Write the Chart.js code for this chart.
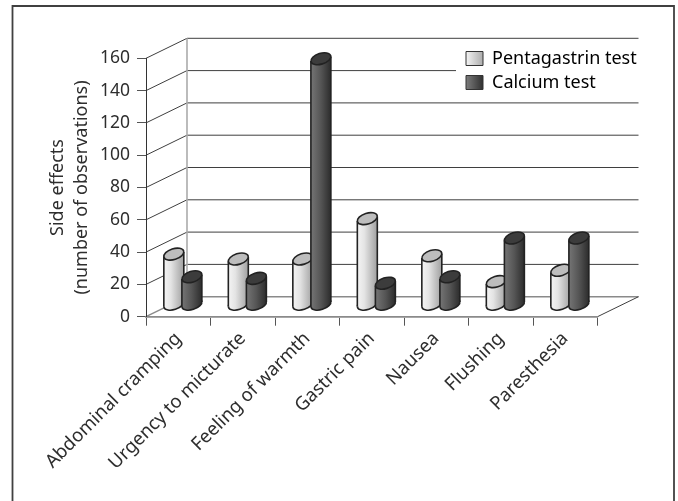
<!DOCTYPE html>
<html><head><meta charset="utf-8">
<style>html,body{margin:0;padding:0;background:#fff}canvas{display:block}</style>
<script src="https://cdn.jsdelivr.net/npm/chart.js@4"></script>
</head><body><canvas id="c" width="678" height="501"></canvas>
<script>
const categories = ['Abdominal cramping','Urgency to micturate','Feeling of warmth','Gastric pain','Nausea','Flushing','Paresthesia'];
const seriesNames = ['Pentagastrin test','Calcium test'];
const pentagastrin = [31,28,28,53,30,14,21];
const calcium = [17,16,152,13,17,41,41];
const yTitle = ['Side effects','(number of observations)'];
const FONT = '"Noto Sans", sans-serif';
const INK = '#2e2e2e';
const depthX = 41, depthY = -20;

function sideGradient(ctx, x0, x1, stops){
  const g = ctx.createLinearGradient(x0,0,x1,0);
  stops.forEach(s=>g.addColorStop(s[0],s[1]));
  return g;
}
const bodyStops = [
  [[0,'#f4f4f4'],[0.35,'#e4e4e4'],[1,'#a0a0a0']],
  [[0,'#757575'],[0.5,'#555555'],[1,'#2c2c2c']]
];
const capColors = ['#bdbdbd','#3c3c3c'];

const scene = {
  id:'scene',
  afterLayout(chart){
    const lg = chart.legend;
    lg.left = 460; lg.right = 460 + lg.width;
    lg.top = 43.5; lg.bottom = 43.5 + lg.height;
  },
  beforeDraw(chart){
    const {ctx, chartArea:a, scales:{y}} = chart;
    ctx.save();
    ctx.fillStyle='#fff'; ctx.fillRect(0,0,chart.width,chart.height);
    ctx.strokeStyle='#404040'; ctx.lineWidth=1.8;
    ctx.beginPath(); ctx.moveTo(12.5,chart.height); ctx.lineTo(12.5,6); ctx.lineTo(674,6); ctx.lineTo(674,chart.height); ctx.stroke();
    y.ticks.forEach(t=>{
      const py = y.getPixelForValue(t.value);
      ctx.strokeStyle = t.value===0 ? '#8a8a8a' : '#3f3f3f';
      ctx.lineWidth = t.value===0 ? 1.4 : 1;
      ctx.beginPath(); ctx.moveTo(a.left,py); ctx.lineTo(a.left+depthX,py+depthY); ctx.lineTo(a.right+depthX,py+depthY); ctx.stroke();
    });
    ctx.strokeStyle='#3f3f3f'; ctx.lineWidth=1;
    ctx.beginPath(); ctx.moveTo(a.right,a.bottom); ctx.lineTo(a.right+depthX,a.bottom+depthY); ctx.stroke();
    ctx.strokeStyle='#ababab'; ctx.lineWidth=1.6;
    ctx.beginPath(); ctx.moveTo(a.left+depthX,a.top+depthY); ctx.lineTo(a.left+depthX,a.bottom+depthY); ctx.stroke();
    ctx.fillStyle='#fff'; ctx.fillRect(456,45,190,48);
    ctx.restore();
  },
  afterDatasetsDraw(chart){
    const {ctx} = chart;
    const metas = chart.data.datasets.map((d,i)=>chart.getDatasetMeta(i));
    const rot = -0.30, dx = 4.6, dy = -12;
    categories.forEach((_,i)=>{
      metas.forEach((m,k)=>{
        const el = m.data[i];
        const cx = el.x+dx, topY = el.y+dy-0.5, botY = el.base+dy;
        const a = el.width/2-0.2, b = 5.4;
        const t = Math.atan(-(b/a)*Math.tan(rot));
        const tx = a*Math.cos(t)*Math.cos(rot)-b*Math.sin(t)*Math.sin(rot);
        const ty = a*Math.cos(t)*Math.sin(rot)+b*Math.sin(t)*Math.cos(rot);
        const fill = sideGradient(ctx,cx-tx,cx+tx,bodyStops[k]);
        ctx.save();
        ctx.lineWidth=1.6; ctx.strokeStyle='#222';
        ctx.fillStyle=fill;
        ctx.beginPath(); ctx.ellipse(cx,botY,a,b,rot,0,Math.PI*2); ctx.fill(); ctx.stroke();
        ctx.beginPath();
        ctx.moveTo(cx-tx,botY-ty); ctx.lineTo(cx-tx,topY-ty); ctx.lineTo(cx+tx,topY+ty); ctx.lineTo(cx+tx,botY+ty); ctx.closePath();
        ctx.fill();
        ctx.beginPath(); ctx.moveTo(cx-tx,botY-ty); ctx.lineTo(cx-tx,topY-ty);
        ctx.moveTo(cx+tx,botY+ty); ctx.lineTo(cx+tx,topY+ty); ctx.stroke();
        ctx.fillStyle=capColors[k];
        ctx.beginPath(); ctx.ellipse(cx,topY,a,b,rot,0,Math.PI*2); ctx.fill(); ctx.stroke();
        ctx.restore();
      });
    });
  }
};

const ctx = document.getElementById('c').getContext('2d');
new Chart(ctx,{
  type:'bar',
  data:{labels:categories,datasets:[
    {label:seriesNames[0],data:pentagastrin,backgroundColor:'transparent',borderWidth:0},
    {label:seriesNames[1],data:calcium,backgroundColor:'transparent',borderWidth:0}
  ]},
  plugins:[scene],
  options:{
    responsive:false,animation:false,
    layout:{padding:{left:12,top:58.3,right:80.5,bottom:0}},
    categoryPercentage:0.56,barPercentage:1.165,
    scales:{
      x:{
        grid:{offset:true,drawOnChartArea:false,tickLength:9,color:'#555',lineWidth:1},
        border:{color:'#8a8a8a',width:1.8},
        ticks:{maxRotation:45,minRotation:45,autoSkip:false,font:{family:FONT,size:18.6},color:INK,padding:2},
        afterFit(s){s.height=501-316.7;}
      },
      y:{
        min:0,max:160,
        grid:{drawOnChartArea:false,tickLength:9,color:'#555',lineWidth:1},
        border:{color:'#333',width:1},
        ticks:{stepSize:20,font:{family:FONT,size:17.5},color:INK,padding:7},
        title:{display:true,text:yTitle,font:{family:FONT,size:18,lineHeight:1.32},color:INK,padding:{top:34,bottom:0}},
        afterFit(s){s.width=146-12;}
      }
    },
    plugins:{
      tooltip:{enabled:false},
      legend:{
        position:'chartArea',align:'start',
        labels:{
          boxWidth:17,boxHeight:14,padding:6,color:INK,font:{family:FONT,size:18},
          generateLabels(chart){
            const c = chart.ctx;
            return chart.data.datasets.map((d,k)=>({
              text:d.label,datasetIndex:k,
              fillStyle:sideGradient(c,467,484,k===0?[[0,'#f0f0f0'],[1,'#a8a8a8']]:[[0,'#787878'],[1,'#2c2c2c']]),
              strokeStyle:'#333',lineWidth:1
            }));
          }
        }
      }
    }
  }
});
</script></body></html>
